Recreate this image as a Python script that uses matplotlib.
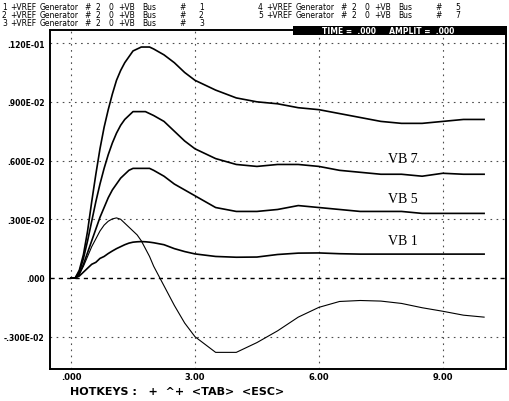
import matplotlib
matplotlib.use("Agg")
import matplotlib.pyplot as plt
from matplotlib.patches import Rectangle

# time axis (s) and the five traces
t = [0, 0.1, 0.2, 0.3, 0.4, 0.5, 0.6, 0.7, 0.8, 0.9, 1.0, 1.1, 1.2, 1.3, 1.4, 1.5,
     1.6, 1.7, 1.8, 1.9, 2.0, 2.25, 2.5, 2.75, 3.0,
     3.5, 4.0, 4.5, 5.0, 5.5, 6.0, 6.5, 7.0, 7.5, 8.0, 8.5, 9.0, 9.5, 10.0]

vb_top = [0, 0, 0.0004, 0.0012, 0.0024, 0.0039, 0.0053, 0.0066, 0.0077, 0.0086,
          0.0094, 0.0101, 0.0106, 0.0110, 0.0113, 0.0116, 0.0117, 0.0118, 0.0118, 0.0118,
          0.0117, 0.0114, 0.0110, 0.0105, 0.0101,
          0.0096, 0.0092, 0.0090, 0.0089, 0.0087, 0.0086, 0.0084, 0.0082, 0.0080,
          0.0079, 0.0079, 0.0080, 0.0081, 0.0081]
vb7 = [0, 0, 0.0003, 0.0010, 0.0019, 0.0029, 0.0039, 0.0048, 0.0056, 0.0063,
       0.0069, 0.0074, 0.0078, 0.0081, 0.0083, 0.0085, 0.0085, 0.0085, 0.0085, 0.0084,
       0.0083, 0.0080, 0.0075, 0.0070, 0.0066,
       0.0061, 0.0058, 0.0057, 0.0058, 0.0058, 0.0057, 0.0055, 0.0054, 0.0053,
       0.0053, 0.0052, 0.00535, 0.0053, 0.0053]
vb5 = [0, 0, 0.0002, 0.0007, 0.0013, 0.0019, 0.0025, 0.0031, 0.0036, 0.0041,
       0.0045, 0.0048, 0.0051, 0.0053, 0.0055, 0.0056, 0.0056, 0.0056, 0.0056, 0.0056,
       0.0055, 0.0052, 0.0048, 0.0045, 0.0042,
       0.0036, 0.0034, 0.0034, 0.0035, 0.0037, 0.0036, 0.0035, 0.0034, 0.0034,
       0.0034, 0.0033, 0.0033, 0.0033, 0.0033]
vb1 = [0, 0, 0.0001, 0.0003, 0.0005, 0.0007, 0.0008, 0.0010, 0.0011, 0.00125,
       0.00138, 0.0015, 0.0016, 0.0017, 0.00178, 0.00183, 0.00185, 0.00186, 0.00185, 0.00183,
       0.0018, 0.0017, 0.0015, 0.00135, 0.00123,
       0.0011, 0.00106, 0.00107, 0.0012, 0.00127, 0.00128, 0.00124, 0.00122, 0.00122,
       0.00122, 0.00122, 0.00122, 0.00122, 0.00122]
vb_neg = [0, 0, 0.0002, 0.0006, 0.0011, 0.0016, 0.0020, 0.0024, 0.0027, 0.0029,
          0.00302, 0.00307, 0.0030, 0.0028, 0.0026, 0.0024, 0.0022, 0.0019, 0.0015, 0.0011,
          0.0006, -0.0004, -0.0014, -0.0023, -0.0030,
          -0.0038, -0.0038, -0.0033, -0.0027, -0.0020, -0.0015, -0.0012, -0.00115,
          -0.00118, -0.0013, -0.00152, -0.0017, -0.0019, -0.0020]

yticks = [0.012, 0.009, 0.006, 0.003, 0.0, -0.003]
ytick_labels = [".120E-01", ".900E-02", ".600E-02", ".300E-02", ".000", "-.300E-02"]
xticks = [0, 3, 6, 9]
xtick_labels = [".000", "3.00", "6.00", "9.00"]

header_left = [("1", "1"), ("2", "2"), ("3", "3")]
header_right = [("4", "5"), ("5", "7")]

narrow = ["Liberation Sans Narrow", "DejaVu Sans"]

W, H = 510, 402
fig = plt.figure(figsize=(W / 100, H / 100), dpi=100)
fig.patch.set_facecolor("white")
ax = fig.add_axes([50 / W, 1 - 370 / H, 456 / W, 339 / H])

for y in vb_top, vb7, vb5, vb1:
    ax.plot(t, y, color="black", lw=1.2, solid_joinstyle="round")
ax.plot(t, vb_neg, color="black", lw=0.8)

# dotted screen grid, zero line drawn heavier
for yv in yticks:
    if yv == 0:
        ax.axhline(yv, color="black", lw=1.0, ls=(0, (3, 3)), zorder=0)
    else:
        ax.axhline(yv, color="0.3", lw=0.8, ls=(0, (1.5, 4)), zorder=0)
for xv in xticks:
    ax.axvline(xv, color="0.3", lw=0.8, ls=(0, (1.5, 4)), zorder=0)

ax.set_xlim(-0.51, 10.53)
ax.set_ylim(-0.00465, 0.01267)
ax.set_xticks(xticks)
ax.set_xticklabels(xtick_labels, family=narrow, fontweight="bold", fontsize=6)
ax.set_yticks(yticks)
ax.set_yticklabels(ytick_labels, family=narrow, fontweight="bold", fontsize=5.5)
ax.tick_params(axis="y", length=0, pad=4)
ax.tick_params(axis="x", length=0, pad=2)
for s in ax.spines.values():
    s.set_linewidth(1.4)

for lbl, y in [("VB 7", 0.00608), ("VB 5", 0.00404), ("VB 1", 0.00194)]:
    ax.text(8.04, y, lbl, ha="center", va="center", family=["Liberation Serif", "DejaVu Serif"],
            fontsize=10)

# header lines above the plot
cols = [(2, "{n}"), (10, "+VREF"), (40, "Generator"), (84, "#"), (96, "2"), (109, "0"),
        (118, "+VB"), (142, "Bus"), (179, "#"), (199, "{b}")]
for i, (n, b) in enumerate(header_left):
    for x0, s in cols:
        fig.text(x0 / W, 1 - (7 + 8 * i) / H, s.format(n=n, b=b), family=narrow,
                 fontsize=5.5, va="center", ha="left")
for i, (n, b) in enumerate(header_right):
    for x0, s in cols:
        fig.text((x0 + 256) / W, 1 - (7 + 8 * i) / H, s.format(n=n, b=b), family=narrow,
                 fontsize=5.5, va="center", ha="left")

fig.patches.append(Rectangle((293 / W, 1 - 36 / H), 214 / W, 9 / H, transform=fig.transFigure,
                             facecolor="black", edgecolor="none", zorder=5))
fig.text(322 / W, 1 - 31.5 / H, "TIME =  .000     AMPLIT =  .000", color="white", family=narrow,
         fontsize=5.5, fontweight="bold", va="center", ha="left", zorder=6)

fig.text(70 / W, 1 - 392 / H, "HOTKEYS :   +  ^+  <TAB>  <ESC>", family=narrow,
         fontsize=8, fontweight="bold", va="center", ha="left")

fig.savefig("out.png", dpi=100, facecolor="white")
